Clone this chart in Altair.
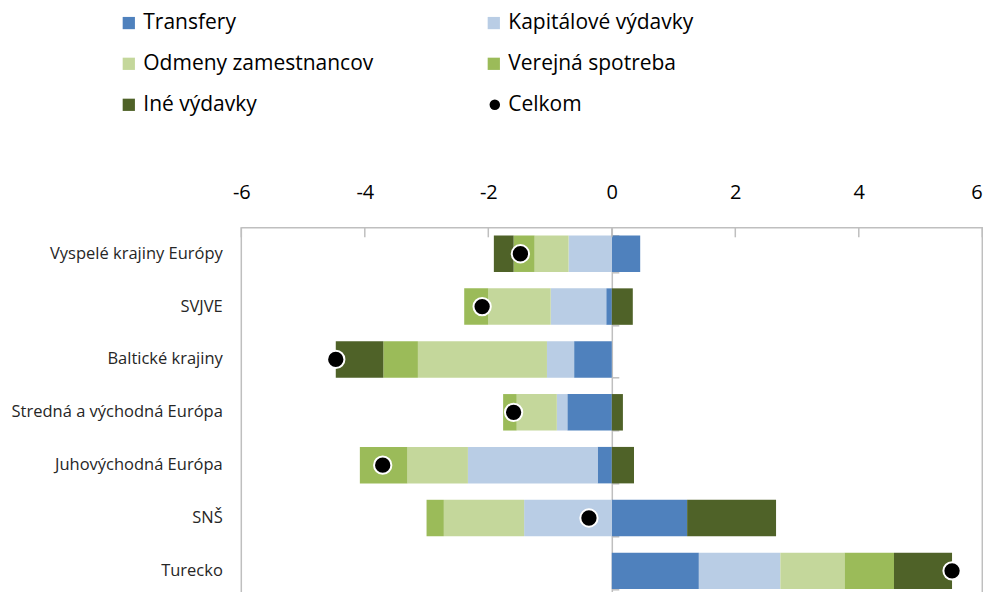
import altair as alt
import pandas as pd

categories = ["Vyspelé krajiny Európy", "SVJVE", "Baltické krajiny",
              "Stredná a východná Európa", "Juhovýchodná Európa", "SNŠ", "Turecko"]
series = ["Transfery", "Kapitálové výdavky", "Odmeny zamestnancov",
          "Verejná spotreba", "Iné výdavky"]
colors = ["#4F81BD", "#B9CDE5", "#C4D79B", "#9BBB59", "#4F6228"]

transfery = [0.46, -0.09, -0.61, -0.72, -0.23, 1.22, 1.41]
kapitalove = [-0.70, -0.90, -0.44, -0.17, -2.10, -1.42, 1.32]
odmeny = [-0.55, -1.01, -2.09, -0.65, -0.98, -1.30, 1.04]
verejna = [-0.34, -0.39, -0.56, -0.22, -0.77, -0.28, 0.80]
ine = [-0.32, 0.34, -0.77, 0.18, 0.36, 1.44, 0.94]
celkom = [-1.48, -2.10, -4.47, -1.59, -3.71, -0.37, 5.51]
x_ticks = [-6, -4, -2, 0, 2, 4, 6]

values = [transfery, kapitalove, odmeny, verejna, ine]
rows = []
for si, (s, vals) in enumerate(zip(series, values)):
    for c, v in zip(categories, vals):
        rows.append({"cat": c, "series": s, "order": si, "value": v})
bars_df = pd.DataFrame(rows)
tot_df = pd.DataFrame({"cat": categories, "total": celkom, "lab": ["Celkom"] * len(categories)})
ticks_df = pd.DataFrame({"t": x_ticks})
border_df = pd.DataFrame({"t": [x_ticks[0], x_ticks[-1]]})

FONT = "Open Sans"
GRAY = "#BFBFBF"
W, H = 741, 370

xscale = alt.Scale(domain=[-6, 6], nice=False, zero=False)
yscale = alt.Scale(domain=categories, paddingInner=0.31, paddingOuter=0.155)

bars = alt.Chart(bars_df).mark_bar().encode(
    x=alt.X("value:Q", scale=xscale, stack="zero",
            axis=alt.Axis(orient="top", values=x_ticks, title=None, ticks=False, grid=False,
                          domainColor=GRAY, domainWidth=1.5, labelFontSize=20, labelFont=FONT,
                          labelColor="#000000", labelPadding=25, labelFlush=False,
                          labelAlign=alt.condition("datum.value == 6", alt.value("right"),
                                                   alt.value("center")),
                          labelExpr="'' + datum.value")),
    y=alt.Y("cat:N", scale=yscale, sort=categories,
            axis=alt.Axis(orient="left", title=None, ticks=False, domain=False,
                          labelFontSize=16.5, labelFont=FONT, labelColor="#262626",
                          labelPadding=19, labelLimit=300)),
    color=alt.Color("series:N", scale=alt.Scale(domain=series, range=colors), sort=series,
                    legend=alt.Legend(orient="none", legendX=-123, legendY=-215, columns=2,
                                      direction="horizontal",
                                      columnPadding=109, rowPadding=19, symbolType="square",
                                      symbolSize=150, symbolStrokeWidth=0, labelFontSize=21,
                                      labelFont=FONT, labelColor="#000000", labelOffset=4,
                                      title=None, labelLimit=400)),
    order=alt.Order("order:Q", sort="ascending"),
)

borders = alt.Chart(border_df).mark_rule(color=GRAY, strokeWidth=1.5).encode(
    x=alt.X("t:Q", scale=xscale)
)

top_ticks = alt.Chart(ticks_df).mark_rule(color=GRAY, strokeWidth=1.5).encode(
    x=alt.X("t:Q", scale=xscale),
    y=alt.value(0),
    y2=alt.value(10),
)

dots = alt.Chart(tot_df).mark_point(filled=True, color="#000000", stroke="#FFFFFF",
                                    strokeWidth=2, size=300, opacity=1).encode(
    x=alt.X("total:Q", scale=xscale),
    y=alt.Y("cat:N", scale=yscale, sort=categories,
            axis=alt.Axis(orient="right", offset=-W / 2, title=None, labels=False,
                          tickBand="extent", ticks=True, tickSize=7, tickColor=GRAY,
                          tickWidth=1.5, domainColor=GRAY, domainWidth=1.5)),
    shape=alt.Shape("lab:N", scale=alt.Scale(domain=["Celkom"], range=["circle"]),
                    legend=alt.Legend(orient="none", legendX=243, legendY=-133,
                                      symbolSize=110, symbolFillColor="#000000",
                                      symbolStrokeWidth=0, labelFontSize=21, labelFont=FONT,
                                      labelColor="#000000", labelOffset=3, title=None)),
)

chart = alt.layer(borders, bars, top_ticks, dots).resolve_axis(y="independent").properties(
    width=W, height=H,
    autosize=alt.AutoSizeParams(type="none"),
    padding={"left": 233.3, "top": 219.3, "right": 0.5, "bottom": 0},
).configure_view(stroke=None)

chart.save("out.html", embed_options={"renderer": "svg", "actions": False})
